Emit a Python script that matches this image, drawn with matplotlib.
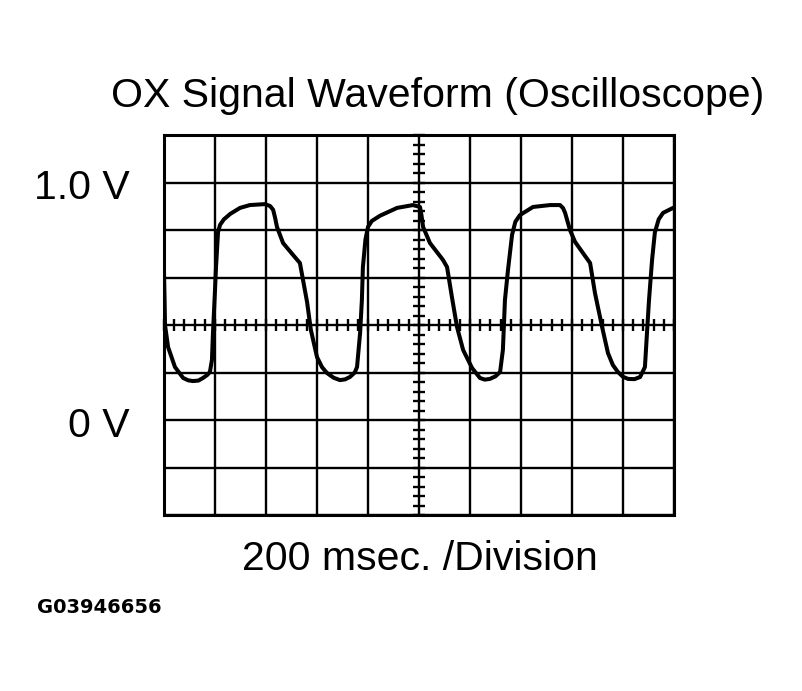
import numpy as np
import matplotlib
matplotlib.use("Agg")
import matplotlib.pyplot as plt

# ---- data ----
time_ms = [0, 2, 4, 16, 43, 75, 95, 114, 135, 153, 170, 180, 188, 192, 200, 204, 212, 220,
           235, 260, 298, 337, 396, 416, 428, 436, 443, 467, 506, 533, 561, 576, 600, 620,
           639, 665, 690, 710, 729, 748, 757, 769, 776, 780, 790, 800, 815, 847, 914, 976,
           1004, 1010, 1016, 1043, 1094, 1110, 1129, 1149, 1173, 1208, 1239, 1258, 1278,
           1300, 1318, 1329, 1337, 1349, 1365, 1378, 1396, 1447, 1514, 1553, 1565, 1573,
           1592, 1612, 1643, 1671, 1690, 1718, 1741, 1760, 1780, 1800, 1820, 1845, 1867,
           1886, 1894, 1902, 1914, 1925, 1940, 1957, 1996]
volts = [0.62, 0.52, 0.40, 0.307, 0.223, 0.177, 0.167, 0.164, 0.166, 0.177, 0.190, 0.202,
         0.253, 0.366, 0.547, 0.644, 0.792, 0.822, 0.845, 0.868, 0.893, 0.905, 0.909, 0.901,
         0.885, 0.850, 0.813, 0.745, 0.695, 0.661, 0.497, 0.379, 0.265, 0.222, 0.198, 0.178,
         0.168, 0.171, 0.181, 0.200, 0.223, 0.366, 0.505, 0.644, 0.760, 0.813, 0.838, 0.860,
         0.893, 0.905, 0.897, 0.860, 0.813, 0.745, 0.674, 0.644, 0.518, 0.392, 0.295, 0.219,
         0.177, 0.170, 0.173, 0.184, 0.202, 0.295, 0.505, 0.632, 0.780, 0.835, 0.863, 0.897,
         0.905, 0.905, 0.892, 0.872, 0.800, 0.750, 0.703, 0.661, 0.535, 0.392, 0.282, 0.232,
         0.202, 0.182, 0.173, 0.172, 0.181, 0.223, 0.366, 0.505, 0.674, 0.790, 0.845, 0.872,
         0.893]

x_major = np.arange(0, 2001, 200)      # 200 ms / division
y_major = np.arange(-0.4, 1.21, 0.2)   # 0.2 V / division
x_minor = np.arange(0, 2001, 40)
y_minor = np.arange(-0.4, 1.21, 0.04)
x_center = 1000
y_center = 0.4

title = "OX Signal Waveform (Oscilloscope)"
xlabel = "200 msec. /Division"
v_labels = ["1.0 V", "0 V"]
code = "G03946656"

# ---- figure ----
W, H = 802, 691
fig = plt.figure(figsize=(W / 100, H / 100), dpi=100)
fig.patch.set_facecolor("white")
ax = fig.add_axes([164 / W, 1 - 515 / H, 510 / W, 380 / H])
ax.set_xlim(0, 2000)
ax.set_ylim(-0.4, 1.2)
ax.set_xticks(x_major)
ax.set_yticks(y_major)
ax.tick_params(length=0, labelbottom=False, labelleft=False)
ax.grid(True, color="black", linewidth=1.7)
ax.set_axisbelow(True)
for s in ax.spines.values():
    s.set_linewidth(2.2)
    s.set_color("black")

# center graticule ticks
ax.plot(x_minor, np.full_like(x_minor, y_center, dtype=float), linestyle="none",
        marker="|", markersize=8.5, markeredgewidth=1.7, color="black", clip_on=False)
ax.plot(np.full_like(y_minor, x_center, dtype=float), y_minor, linestyle="none",
        marker="_", markersize=8.5, markeredgewidth=1.7, color="black", clip_on=False)

# waveform
ax.plot(time_ms, volts, color="black", linewidth=2.9, solid_joinstyle="round",
        solid_capstyle="round", clip_on=True)

font = "Liberation Sans"
fig.text(438 / W, 1 - 107 / H, title, ha="center", va="baseline",
         fontsize=29.5, family=font)
fig.text(420 / W, 1 - 570 / H, xlabel, ha="center", va="baseline",
         fontsize=29.5, family=font)
fig.text(130 / W, 1 - 199 / H, v_labels[0], ha="right", va="baseline",
         fontsize=29.5, family=font)
fig.text(130 / W, 1 - 437 / H, v_labels[1], ha="right", va="baseline",
         fontsize=29.5, family=font)
fig.text(37 / W, 1 - 613 / H, code, ha="left", va="baseline",
         fontsize=14, family="DejaVu Sans", fontweight="bold")

fig.savefig("out.png", dpi=100, facecolor="white")
